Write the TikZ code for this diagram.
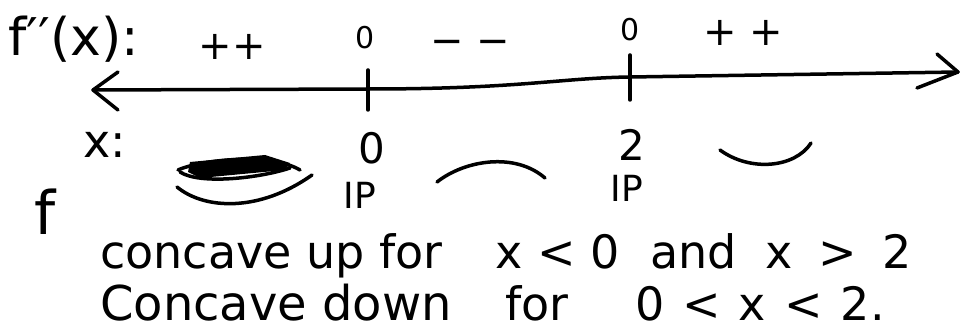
\documentclass[tikz,border=0pt]{standalone}
\usepackage{fontspec}
\setmainfont{DejaVu Sans}
\begin{document}
\begin{tikzpicture}[x=1pt,y=-1pt,
  ink/.style={line width=3.5pt,line cap=round,line join=round},
  big/.style={font=\fontsize{46}{50}\selectfont,inner sep=0pt},
  sign/.style={font=\fontsize{40}{44}\selectfont,inner sep=0pt},
  small/.style={font=\fontsize{30}{34}\selectfont,inner sep=0pt},
  lab/.style={font=\fontsize{42}{46}\selectfont,inner sep=0pt},
  ip/.style={font=\fontsize{36}{40}\selectfont,inner sep=0pt}]
\useasboundingbox (0,0) rectangle (961,331);
\fill[white] (0,0) rectangle (961,331);
% axis
\coordinate (L) at (93,90);
\coordinate (R) at (958,72);
\coordinate (t0) at (368,89);
\coordinate (t2) at (630,77);
\draw[ink] (L) -- (t0) .. controls (520,89) and (560,78) .. (t2) -- (R);
\draw[ink] (118,72) -- (L) -- (118,110);
\draw[ink] (937,54) -- (R) -- (917,88);
\draw[ink] (368,70) -- (368,110);
\draw[ink] (630,55) -- (630,100);
% top labels
\node[anchor=base west,font=\fontsize{52}{56}\selectfont,inner sep=0pt] (fpp) at (8,56) {f′′(x):};
\node[sign] (pp1) at (232,47) {++};
\node[small] (z1) at (365,38) {0};
\node[sign] (mm) at (470,47) {− −};
\node[small] (z2) at (630,30) {0};
\node[sign] (pp2) at (743,33) {+ +};
% bottom labels
\node[big] (xl) at (105,145) {x:};
\node[lab] (x0) at (372,148) {0};
\node[lab] (x2) at (632,145) {2};
\node[ip] (ip1) at (360,195) {IP};
\node[ip] (ip2) at (627,188) {IP};
\node[font=\fontsize{60}{64}\selectfont,inner sep=0pt] (f) at (45,212) {f};
% curves
\fill (190,162) -- (265,155) -- (290,163) -- (285,170) -- (200,178) -- (188,172) -- cycle;
\draw[ink] (178,170) .. controls (200,160) and (270,152) .. (300,170);
\draw[ink] (180,172) .. controls (200,185) and (260,178) .. (290,168);
\draw[ink] (177,187) .. controls (205,210) and (260,212) .. (312,175);
\draw[ink] (437,182) .. controls (465,160) and (515,152) .. (545,178);
\draw[ink] (720,150) .. controls (750,172) and (795,168) .. (811,143);
% conclusions
\node[big,anchor=base west] (c1) at (100,268) {concave up for};
\node[big,anchor=base west] (c2) at (495,268) {x < 0};
\node[big,anchor=base west] (c3) at (650,268) {and};
\node[big,anchor=base west] (c4) at (765,268) {x\hspace{26pt}>\hspace{26pt}2};
\node[big,anchor=base west,font=\fontsize{48}{52}\selectfont] (d1) at (100,320) {Concave down};
\node[big,anchor=base west] (d2) at (505,320) {for};
\node[big,anchor=base west] (d3) at (635,320) {0\hspace{18pt}<\hspace{18pt}x\hspace{18pt}<\hspace{18pt}2.};
\end{tikzpicture}
\end{document}
